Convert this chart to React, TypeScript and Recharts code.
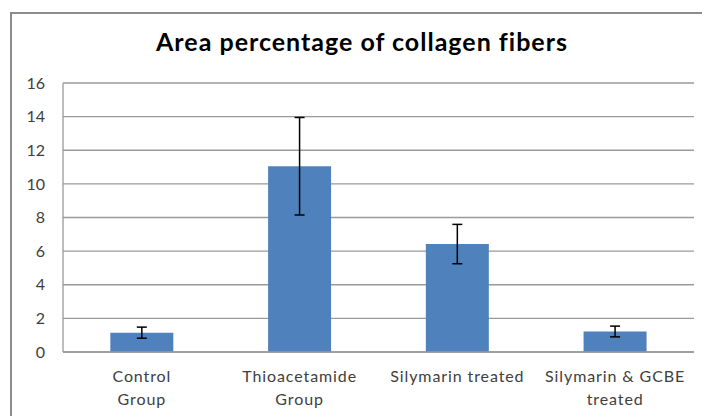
import React from 'react';
import { BarChart, Bar, XAxis, YAxis, CartesianGrid, ErrorBar } from 'recharts';

const categories = ['Control\nGroup', 'Thioacetamide\nGroup', 'Silymarin treated', 'Silymarin & GCBE\ntreated'];
const means = [1.15, 11.05, 6.42, 1.22];
const errors = [0.33, 2.9, 1.17, 0.32];
const yTicks = [0, 2, 4, 6, 8, 10, 12, 14, 16];

const data = categories.map((name, i) => ({ name, value: means[i], err: errors[i] }));

const FONT = 'Lato, "Open Sans", sans-serif';

const CategoryTick = (props: any) => {
  const { x, y, payload } = props;
  const lines = String(payload.value).split('\n');
  return (
    <text x={x} y={y} textAnchor="middle" fill="#404040" fontSize={16} fontFamily={FONT} letterSpacing={0.9}>
      {lines.map((l, i) => (
        <tspan key={i} x={x} dy={i === 0 ? '0.72em' : 23}>
          {l}
        </tspan>
      ))}
    </text>
  );
};

export default function App() {
  return (
    <div style={{ position: 'absolute', left: 0, top: 0, width: 702, height: 416, overflow: 'hidden', background: '#fff' }}>
      <div
        style={{
          position: 'absolute',
          left: 10,
          top: 12,
          width: 740,
          height: 440,
          border: '2px solid #8c8c8c',
        }}
      />
      <div
        style={{
          position: 'absolute',
          left: 0,
          width: 724,
          top: 26,
          textAlign: 'center',
          fontFamily: FONT,
          fontWeight: 700,
          fontSize: 25,
          letterSpacing: 1,
          color: '#000',
        }}
      >
        Area percentage of collagen fibers
      </div>
      <div style={{ position: 'absolute', left: 0, top: 0 }}>
        <BarChart
          width={702}
          height={416}
          data={data}
          margin={{ top: 83, right: 8, left: 0, bottom: 0 }}
          barCategoryGap="30%"
        >
          <CartesianGrid vertical={false} stroke="#9a9a9a" strokeWidth={1.3} />
          <XAxis
            dataKey="name"
            axisLine={{ stroke: '#9a9a9a', strokeWidth: 1.3 }}
            tickLine={false}
            tickMargin={12}
            interval={0}
            height={64}
            tick={<CategoryTick />}
          />
          <YAxis
            width={63}
            domain={[0, 16]}
            ticks={yTicks}
            interval={0}
            axisLine={{ stroke: '#9a9a9a', strokeWidth: 1.3 }}
            tickLine={false}
            tickMargin={12}
            tick={{ fill: '#404040', fontSize: 16, fontFamily: FONT }}
          />
          <Bar dataKey="value" fill="#4f81bd" isAnimationActive={false}>
            <ErrorBar dataKey="err" width={5} stroke="#000" strokeWidth={1.5} direction="y" />
          </Bar>
        </BarChart>
      </div>
    </div>
  );
}
